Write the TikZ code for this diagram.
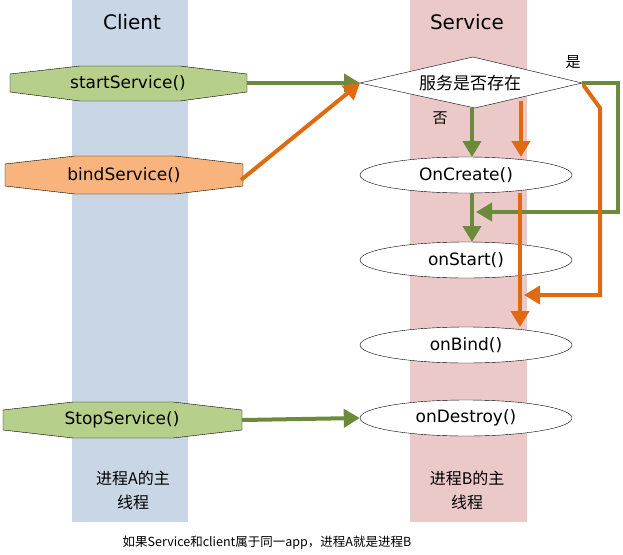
\documentclass[tikz,border=0pt]{standalone}
\usepackage{fontspec}
\setmainfont{DejaVu Sans}
\newfontfamily\cjk{Noto Sans CJK SC}
\usetikzlibrary{shapes.geometric,arrows.meta}
\definecolor{gr}{HTML}{6B8A3A}
\definecolor{orr}{HTML}{E06A10}
\definecolor{grf}{HTML}{B6CF8B}
\definecolor{orf}{HTML}{F8B47C}
\definecolor{bl}{HTML}{C8D6E6}
\definecolor{pk}{HTML}{EBC9C9}
\begin{document}
\begin{tikzpicture}[x=1pt,y=-1pt,
  ell/.style={ellipse,draw,thin,fill=white,minimum width=212pt,minimum height=36pt,font=\fontsize{17}{19}\selectfont},
  lbl/.style={font=\fontsize{17}{19}\selectfont},
  garr/.style={gr,line width=4pt,-{Triangle[length=16pt,width=18pt]}},
  oarr/.style={orr,line width=4pt,-{Triangle[length=16pt,width=18pt]}},
  oct/.style={draw,thin}]
\useasboundingbox (0,0) rectangle (623,554);
\fill[bl] (72,0) rectangle (188,522);
\fill[pk] (410,0) rectangle (527,522);
\node[font=\fontsize{20}{22}\selectfont] (tc) at (132,22) {Client};
\node[font=\fontsize{20}{22}\selectfont] (ts) at (467,22) {Service};
% octagons
\draw[oct,fill=grf] (10,74)--(80,66)--(180,66)--(247,74)--(247,92)--(180,101)--(80,101)--(10,92)--cycle;
\node[lbl] (ss) at (128,83) {startService()};
\coordinate (ssr) at (247,83);
\draw[oct,fill=orf] (5,164)--(75,156)--(175,156)--(243,164)--(243,186)--(175,194)--(75,194)--(5,186)--cycle;
\node[lbl] (bs) at (124,175) {bindService()};
\coordinate (bsr) at (241,180);
\draw[oct,fill=grf] (3,410)--(73,402)--(173,402)--(242,410)--(242,430)--(173,438)--(73,438)--(3,430)--cycle;
\node[lbl] (st) at (122,420) {StopService()};
\coordinate (str) at (242,420);
% diamond
\draw[thin,fill=white] (360,83)--(473,57)--(582,83)--(475,108)--cycle;
\node[font=\cjk\fontsize{17}{19}\selectfont] (d) at (470,83) {服务是否存在};
\coordinate (dl) at (360,83);
\node[ell] (c) at (466,175) {OnCreate()};
\node[ell] (s) at (466,260) {onStart()};
\node[ell] (b) at (466,345) {onBind()};
\node[ell] (x) at (466,418) {onDestroy()};
% arrows
\draw[garr] (ssr) -- (dl);
\draw[oarr] (bsr) -- (dl);
\draw[garr] (str) -- (x.west);
\draw[garr] (472,108) -- (472,157);
\draw[garr] (472,193) -- (472,242);
\draw[garr,line width=3.5pt] (582,83) -- (618,83) -- (618,212) -- (476,212);
\draw[oarr] (521,101) -- (521,157);
\draw[oarr] (520,193) -- (520,327);
\draw[oarr,line cap=round] (584,86) -- (600,108) -- (600,295) -- (524,295);
\node[font=\cjk\fontsize{15}{17}\selectfont] (y) at (573,62) {是};
\node[font=\cjk\fontsize{15}{17}\selectfont] (n) at (440,118) {否};
\node[align=center,font=\cjk\fontsize{16}{24}\selectfont] (pa) at (133,490) {进程A的主\\线程};
\node[align=center,font=\cjk\fontsize{16}{24}\selectfont] (pb) at (467,490) {进程B的主\\线程};
\node[font=\cjk\fontsize{12.5}{14}\selectfont] (note) at (267,543) {如果Service和client属于同一app，进程A就是进程B};
\end{tikzpicture}
\end{document}
